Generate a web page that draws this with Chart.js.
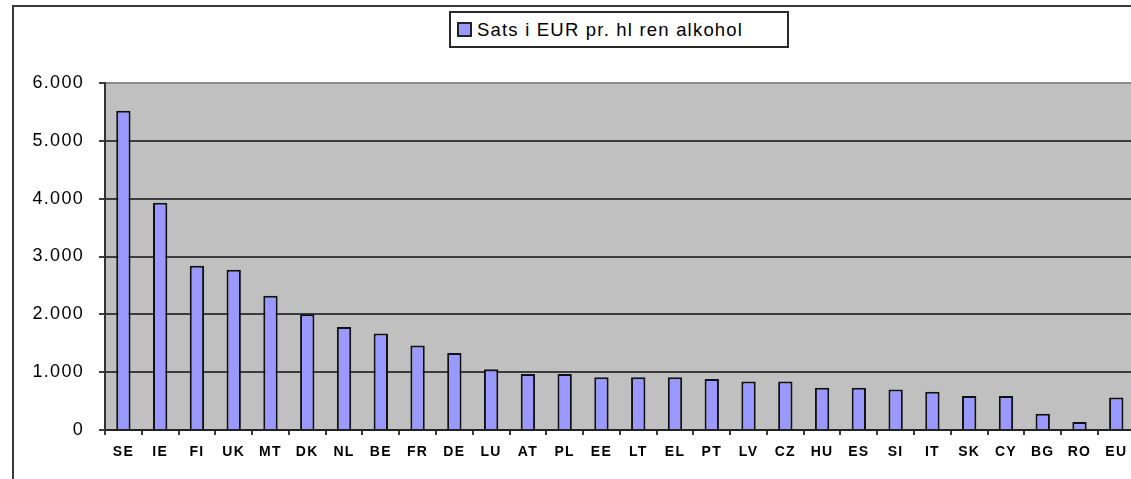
<!DOCTYPE html>
<html>
<head>
<meta charset="utf-8">
<script src="https://cdn.jsdelivr.net/npm/chart.js@4.4.1/dist/chart.umd.min.js"></script>
<style>
  html, body { margin: 0; padding: 0; background: #fff; overflow: hidden; width: 1131px; height: 479px; }
  #frame { position: absolute; left: 12px; top: 5px; width: 1300px; height: 600px; border: 2px solid #3a3a3a; }
  #chart { position: absolute; left: 0; top: 0; }
  #legend {
    position: absolute; left: 449px; top: 11px; width: 336px; height: 33px;
    border: 2px solid #2a2a2a; background: #fff;
    font-family: 'Liberation Sans', Arial, sans-serif; font-size: 18.5px; letter-spacing: 1.2px;
    line-height: 33px; color: #000; white-space: nowrap;
  }
  #legend .swatch {
    display: inline-block; width: 11px; height: 11px; margin: 0 5px 0 6px;
    border: 2px solid #222; vertical-align: -1px;
  }
</style>
</head>
<body>
<div id="frame"></div>
<canvas id="chart" width="1135" height="479"></canvas>
<div id="legend"><span class="swatch"></span><span id="legendText"></span></div>

<script>
// data
const countries = ['SE', 'IE', 'FI', 'UK', 'MT', 'DK', 'NL', 'BE', 'FR', 'DE', 'LU', 'AT', 'PL', 'EE',
  'LT', 'EL', 'PT', 'LV', 'CZ', 'HU', 'ES', 'SI', 'IT', 'SK', 'CY', 'BG', 'RO', 'EU'];
const rates = [5520, 3930, 2840, 2770, 2320, 2000, 1780, 1670, 1460, 1330, 1050, 970, 970, 910,
  910, 910, 880, 840, 840, 730, 730, 700, 660, 590, 590, 280, 140, 560];
const yTickLabels = ['0', '1.000', '2.000', '3.000', '4.000', '5.000', '6.000'];
const seriesName = 'Sats i EUR pr. hl ren alkohol';

const barFill = '#9999FF';
const gridDark = '#3c3c3c';

document.getElementById('legendText').textContent = seriesName;
document.querySelector('#legend .swatch').style.background = barFill;

Chart.defaults.font.family = "'Liberation Sans', Arial, sans-serif";
Chart.defaults.color = '#000';

// grey plot area + wider letter spacing like the old excel rendering
const plotBackground = {
  id: 'plotBackground',
  beforeDraw(chart) {
    const { ctx, chartArea } = chart;
    ctx.save();
    ctx.fillStyle = '#C0C0C0';
    ctx.fillRect(chartArea.left, chartArea.top, chartArea.right - chartArea.left, chartArea.bottom - chartArea.top);
    ctx.restore();
    ctx.letterSpacing = '1.3px';
  }
};

new Chart(document.getElementById('chart'), {
  type: 'bar',
  data: {
    labels: countries,
    datasets: [{
      label: seriesName,
      data: rates,
      backgroundColor: barFill,
      borderColor: '#111',
      borderWidth: 2,
      borderSkipped: 'start',
      barPercentage: 0.39,
      categoryPercentage: 1
    }]
  },
  options: {
    responsive: false,
    animation: false,
    layout: { padding: { top: 83, left: 0, right: 0, bottom: 0 } },
    plugins: {
      legend: { display: false },
      tooltip: { enabled: false }
    },
    scales: {
      x: {
        afterFit: (s) => { s.height = 49; },
        grid: {
          offset: true,
          drawOnChartArea: false,
          drawTicks: true,
          tickLength: 5,
          color: gridDark,
          lineWidth: 2
        },
        border: { color: '#222', width: 2 },
        ticks: {
          padding: 9,
          maxRotation: 0,
          autoSkip: false,
          font: { size: 14, weight: 'bold' }
        }
      },
      y: {
        min: 0,
        max: 6000,
        afterFit: (s) => { s.width = 105; },
        grid: {
          color: (c) => (c.tick && c.tick.value === 6000 ? '#8a8a8a' : gridDark),
          tickColor: gridDark,
          lineWidth: 2,
          tickLength: 6
        },
        border: { color: '#333', width: 2 },
        ticks: {
          stepSize: 1000,
          padding: 15,
          font: { size: 18 },
          callback: (v, i) => yTickLabels[i]
        }
      }
    }
  },
  plugins: [plotBackground]
});
</script>
</body>
</html>
